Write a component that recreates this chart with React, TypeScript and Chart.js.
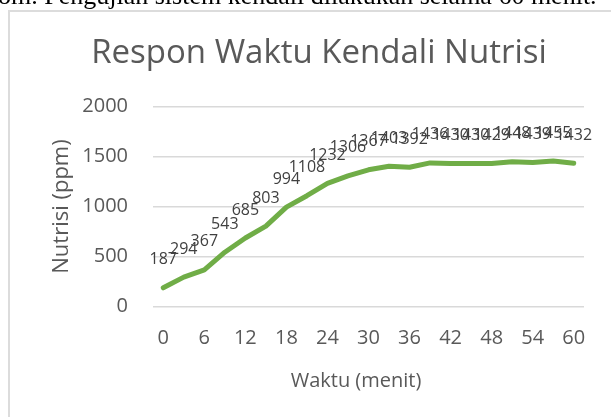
import React, { useEffect, useRef } from "react";
import { Chart, registerables } from "chart.js";

Chart.register(...registerables);

const minutes: string[] = ["0", "3", "6", "9", "12", "15", "18", "21", "24", "27", "30", "33", "36", "39", "42", "45", "48", "51", "54", "57", "60"];
const nutrisi: number[] = [187, 294, 367, 543, 685, 803, 994, 1108, 1232, 1306, 1367, 1403, 1392, 1436, 1430, 1430, 1429, 1448, 1439, 1455, 1432];
const yTicks: number[] = [0, 500, 1000, 1500, 2000];
const chartTitle = "Respon Waktu Kendali Nutrisi";
const xTitle = "Waktu (menit)";
const yTitle = "Nutrisi (ppm)";

const FONT = '"Open Sans", "Noto Sans", sans-serif';

const textPlugin = {
  id: "customText",
  afterDatasetsDraw(chart: any) {
    const ctx = chart.ctx;
    const meta = chart.getDatasetMeta(0);
    ctx.save();
    ctx.font = `16px ${FONT}`;
    ctx.fillStyle = "#404040";
    ctx.textAlign = "center";
    ctx.textBaseline = "middle";
    meta.data.forEach((pt: any, i: number) => {
      ctx.fillText(String(nutrisi[i]), pt.x, pt.y - 28);
    });
    ctx.fillStyle = "#595959";
    ctx.font = `33px ${FONT}`;
    ctx.fillText(chartTitle, 319, 54);
    ctx.font = `20px ${FONT}`;
    ctx.fillText(xTitle, 356, 381);
    ctx.restore();
  },
};

export default function App() {
  const ref = useRef<HTMLCanvasElement | null>(null);

  useEffect(() => {
    if (!ref.current) return;
    const chart = new Chart(ref.current, {
      type: "line",
      data: {
        labels: minutes,
        datasets: [
          {
            data: nutrisi,
            borderColor: "#70AD47",
            backgroundColor: "#70AD47",
            borderWidth: 5,
            borderCapStyle: "round",
            borderJoinStyle: "round",
            pointRadius: 0,
            tension: 0,
          },
        ],
      },
      options: {
        responsive: false,
        animation: false,
        devicePixelRatio: 1,
        layout: { padding: { left: 0, right: 27, top: 106.5, bottom: 10.5 } },
        plugins: {
          legend: { display: false },
          tooltip: { enabled: false },
          title: { display: false },
        },
        scales: {
          x: {
            type: "category",
            offset: true,
            grid: { display: false, drawTicks: false },
            border: { display: false },
            ticks: {
              autoSkip: false,
              maxRotation: 0,
              minRotation: 0,
              padding: 19.5,
              color: "#595959",
              font: { family: FONT, size: 20 },
              callback: (_v: any, i: number) => (i % 2 === 0 ? minutes[i] : ""),
            },
            title: { display: false },
            afterFit: (scale: any) => {
              scale.height = 100;
            },
          },
          y: {
            min: 0,
            max: 2000,
            grid: { color: "#d9d9d9", lineWidth: 1.5, drawTicks: false },
            border: { display: false },
            afterBuildTicks: (scale: any) => {
              scale.ticks = yTicks.map((v) => ({ value: v }));
            },
            ticks: {
              padding: 25,
              color: "#595959",
              font: { family: FONT, size: 20 },
              callback: (v: any) => String(v),
            },
            title: {
              display: true,
              text: yTitle,
              color: "#595959",
              font: { family: FONT, size: 22 },
              padding: { top: 48.8, bottom: 0 },
            },
            afterFit: (scale: any) => {
              scale.width = 153;
            },
          },
        },
      },
      plugins: [textPlugin],
    });
    return () => chart.destroy();
  }, []);

  return (
    <div>
      <div
        style={{
          position: "fixed",
          left: -2,
          top: -17,
          fontFamily: '"Liberation Serif", "Times New Roman", serif',
          fontSize: 26,
          lineHeight: "26px",
          whiteSpace: "nowrap",
          color: "#000",
        }}
      >
        om. Pengujian sistem kendali dilakukan selama 60 menit.
      </div>
      <div
        style={{
          position: "fixed",
          left: 8,
          top: 10,
          width: 620,
          height: 420,
          borderLeft: "2px solid #dcdcdc",
          borderTop: "2px solid #dcdcdc",
          background: "#fff",
        }}
      />
      <canvas
        ref={ref}
        width={611}
        height={417}
        style={{ position: "fixed", left: 0, top: 0, width: 611, height: 417 }}
      />
    </div>
  );
}
